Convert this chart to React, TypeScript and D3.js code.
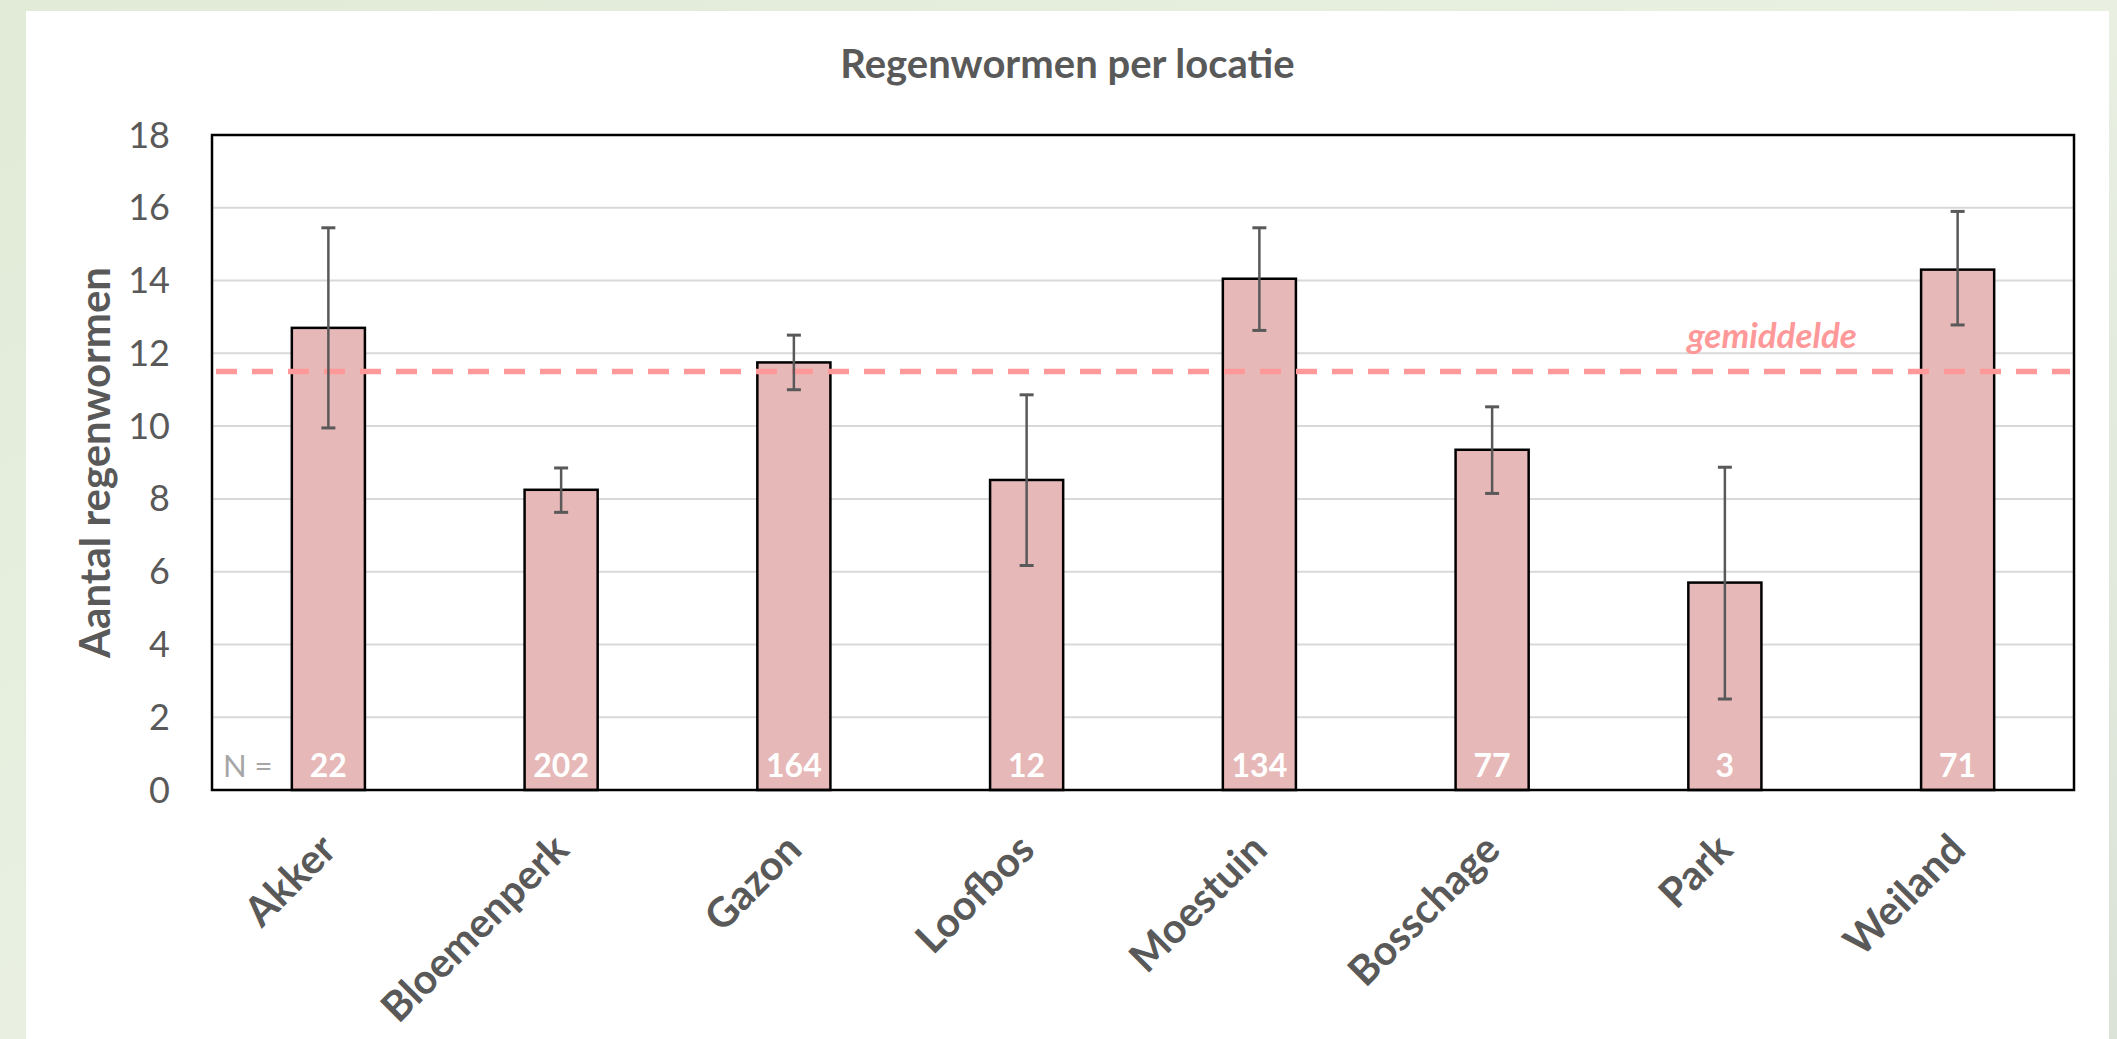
import React from "react";
import * as d3 from "d3";

const categories = ["Akker", "Bloemenperk", "Gazon", "Loofbos", "Moestuin", "Bosschage", "Park", "Weiland"];
const means = [12.7, 8.25, 11.75, 8.52, 14.05, 9.35, 5.7, 14.3];
const errLow = [9.95, 7.63, 11.0, 6.17, 12.63, 8.15, 2.5, 12.78];
const errHigh = [15.45, 8.85, 12.5, 10.86, 15.45, 10.53, 8.87, 15.9];
const counts = [22, 202, 164, 12, 134, 77, 3, 71];
const overallMean = 11.5;
const yTicks = [0, 2, 4, 6, 8, 10, 12, 14, 16, 18];

const W = 2117;
const H = 1039;
const PL = 212, PR = 2074, PT = 135, PB = 790;
const FONT = "Lato, 'Open Sans', sans-serif";
const GREY = "#595959";

export default function App() {
  const x = d3.scaleBand<string>().domain(categories).range([PL, PR]).paddingInner(0.686).paddingOuter(0.343);
  const y = d3.scaleLinear().domain([0, 18]).range([PB, PT]);
  const bw = x.bandwidth();
  return (
    <div style={{ position: "absolute", left: 0, top: 0, width: W, height: H }}>
      <svg width={W} height={H} style={{ display: "block" }}>
        <defs>
          <linearGradient id="bg" x1="0" y1="0" x2="1" y2="1">
            <stop offset="0" stopColor="#e1ebd7" />
            <stop offset="0.5" stopColor="#e9f0e2" />
            <stop offset="1" stopColor="#dbe3d8" />
          </linearGradient>
        </defs>
        <rect x={0} y={0} width={W} height={H} fill="url(#bg)" />
        <rect x={26} y={11} width={2109 - 26} height={H - 11} fill="#ffffff" />
        <text x={(26 + 2109) / 2} y={78} textAnchor="middle" fontFamily={FONT} fontWeight={700} fontSize={40} fill={GREY}>
          Regenwormen per locatie
        </text>
        {yTicks.filter((t) => t > 0 && t < 18).map((t) => (
          <line key={"g" + t} x1={PL} x2={PR} y1={y(t)} y2={y(t)} stroke="#d9d9d9" strokeWidth={2} />
        ))}
        {yTicks.map((t) => (
          <text key={"t" + t} x={170} y={y(t)} dy="0.35em" textAnchor="end" fontFamily={FONT} fontSize={36} fill={GREY}>
            {t}
          </text>
        ))}
        <text transform={`translate(95,${(PT + PB) / 2}) rotate(-90)`} dy="0.35em" textAnchor="middle" fontFamily={FONT} fontWeight={700} fontSize={42} fill={GREY}>
          Aantal regenwormen
        </text>
        {categories.map((c, i) => (
          <rect key={"b" + c} x={x(c)!} y={y(means[i])} width={bw} height={y(0) - y(means[i])} fill="#e6b8b7" stroke="#000" strokeWidth={2.5} />
        ))}
        <line x1={PL + 4} x2={PR - 4} y1={y(overallMean)} y2={y(overallMean)} stroke="#ff9999" strokeWidth={5.5} strokeDasharray="21 15" />
        <text x={1772} y={348} textAnchor="middle" fontFamily={FONT} fontWeight={700} fontStyle="italic" fontSize={35} fill="#ff9999">
          gemiddelde
        </text>
        {categories.map((c, i) => {
          const cx = x(c)! + bw / 2;
          return (
            <g key={"e" + c} stroke={GREY} strokeWidth={2.5}>
              <line x1={cx} x2={cx} y1={y(errLow[i])} y2={y(errHigh[i])} />
              <line x1={cx - 7} x2={cx + 7} y1={y(errLow[i])} y2={y(errLow[i])} strokeWidth={3} />
              <line x1={cx - 7} x2={cx + 7} y1={y(errHigh[i])} y2={y(errHigh[i])} strokeWidth={3} />
            </g>
          );
        })}
        <rect x={PL} y={PT} width={PR - PL} height={PB - PT} fill="none" stroke="#000" strokeWidth={2.5} />
        <text x={223} y={777} fontFamily={FONT} fontSize={31} fill="#a6a6a6">N =</text>
        {categories.map((c, i) => (
          <text key={"n" + c} x={x(c)! + bw / 2} y={777} textAnchor="middle" fontFamily={FONT} fontWeight={700} fontSize={32} fill="#ffffff">
            {counts[i]}
          </text>
        ))}
        {categories.map((c) => {
          const cx = x(c)! + bw / 2;
          return (
            <text key={"l" + c} transform={`translate(${cx + 10},${852}) rotate(-45)`} textAnchor="end" fontFamily={FONT} fontWeight={700} fontSize={41} fill={GREY}>
              {c}
            </text>
          );
        })}
      </svg>
    </div>
  );
}
